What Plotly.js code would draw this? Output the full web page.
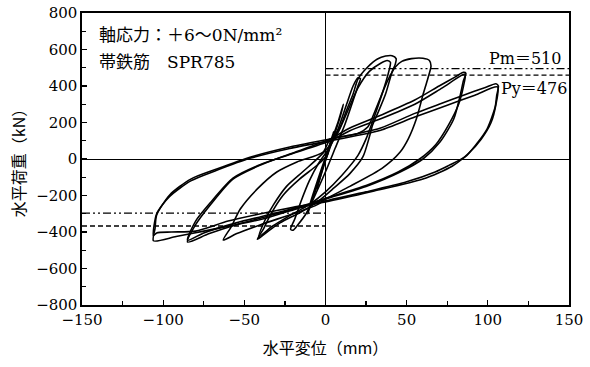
<!DOCTYPE html>
<html>
<head>
<meta charset="utf-8">
<script src="https://cdn.plot.ly/plotly-3.0.1.min.js"></script>
<style>html,body{margin:0;padding:0;background:#fff;}#chart{width:590px;height:367px;}</style>
</head>
<body>
<div id="chart"></div>
<script>
// ---- data (horizontal displacement mm, horizontal load kN) ----
const cycA_x = [0, 2, 5, 4, 1, -2, -5, -4, -1, 0];
const cycA_y = [0, 60, 150, 110, 20, -60, -160, -120, -30, 0];

const cycB_x = [0, 4, 8, 11, 9, 5, 0, -4, -8, -11, -9, -5, 0];
const cycB_y = [10, 110, 210, 300, 230, 120, -10, -120, -220, -300, -230, -120, 10];

const cycC_x = [3, 8, 13, 17, 20, 21.5, 20, 17, 12, 6, 0, -6, -12, -17, -20, -21.5, -19, -15, -10, -4, 3];
const cycC_y = [70, 170, 300, 400, 445, 440, 400, 320, 190, 60, -70, -190, -300, -360, -390, -385, -330, -230, -120, -20, 70];

const cycD_x = [3, 5, 9, 13, 17, 20, 26, 32, 37, 41, 43.5, 43, 41, 37, 32, 29, 27, 23, 15, 5, -5, -15, -28, -36, -42, -38, -34, -26, -16, -5, 1, 3];
const cycD_y = [90, 120, 175, 268, 356, 438, 504, 548, 564, 566, 550, 520, 477, 356, 247, 186, 120, 11, -80, -160, -235, -290, -350, -400, -440, -380, -307, -197, -110, -33, 22, 90];

const cycD2_x = [3, 8, 14, 20, 27, 34, 38, 40, 39, 35, 30, 25, 20, 10, 0, -10, -22, -33, -41, -37, -32, -24, -14, -4, 3];
const cycD2_y = [80, 150, 270, 390, 480, 525, 540, 530, 480, 360, 230, 110, 20, -90, -180, -250, -310, -370, -425, -330, -250, -150, -70, 10, 80];

const cycE_x = [3, 12, 20, 26, 29, 34, 38.5, 43, 47, 53, 60, 64, 65, 63, 60, 56, 51, 46, 35, 15, 0, -5, -20, -40, -55, -63, -58, -52.5, -42, -30, -17.6, -1.5, 3];
const cycE_y = [110, 125, 140, 175, 230, 340, 433, 504, 535, 550, 552, 540, 510, 440, 350, 220, 110, 38, -50, -150, -220, -250, -300, -360, -410, -444, -370, -274, -164, -71, -16, 38, 110];

const cycF_x = [3, 15, 34, 55, 70, 80, 85, 86.5, 85, 83, 79, 70.5, 60, 46, 25, 0, -10, -30, -55, -72, -85, -80, -71, -57, -40, -22, 3];
const cycF_y = [110, 170, 240, 323, 400, 450, 475, 470, 430, 350, 219, 93, 0, -71, -150, -220, -250, -300, -360, -410, -455, -360, -252, -110, -33, 27, 110];

const cycF2_x = [3, 15, 34, 55, 72, 86, 85, 82, 76, 68, 58, 45, 25, 0, -10, -30, -55, -75, -85, -80, -71, -57, -40, -22, 3];
const cycF2_y = [100, 155, 220, 300, 390, 465, 400, 300, 190, 80, 0, -70, -145, -215, -245, -295, -350, -405, -445, -340, -240, -105, -30, 25, 100];

const cycG_x = [3, 20, 34, 55, 70, 85, 98, 105, 106.5, 105.5, 104.5, 99.5, 93, 86, 76, 67.5, 50, 25, 0, -15, -35, -55, -75, -92, -106, -105, -104, -96, -83, -67, -46, -22, 3];
const cycG_y = [110, 140, 170, 250, 300, 350, 390, 412, 400, 350, 285, 164, 82, 11, -35, -71, -125, -180, -230, -265, -320, -360, -395, -425, -448, -380, -307, -197, -110, -55, 11, 66, 110];

const cycG2_x = [3, 20, 34, 55, 75, 92, 106, 105, 102, 96, 88, 78, 60, 30, 0, -20, -40, -60, -80, -95, -104, -106, -104, -96, -83, -67, -46, -22, 3];
const cycG2_y = [100, 130, 158, 230, 295, 350, 395, 300, 200, 110, 30, -40, -110, -175, -235, -265, -300, -340, -395, -400, -405, -420, -300, -205, -120, -62, 5, 58, 100];

const cycles = [
  [cycA_x, cycA_y], [cycB_x, cycB_y], [cycC_x, cycC_y], [cycD_x, cycD_y], [cycD2_x, cycD2_y],
  [cycE_x, cycE_y], [cycF_x, cycF_y], [cycF2_x, cycF2_y], [cycG_x, cycG_y], [cycG2_x, cycG2_y]
];

// reference levels
const pmPosX = [0, 150],   pmPosY = [495, 495];
const pyPosX = [0, 150],   pyPosY = [460, 460];
const pmNegX = [-150, 0],  pmNegY = [-297, -297];
const pyNegX = [-150, 0],  pyNegY = [-367, -367];

const xTicks = [-150, -100, -50, 0, 50, 100, 150];
const yTicks = [-800, -600, -400, -200, 0, 200, 400, 600, 800];

const traces = cycles.map(c => ({
  x: c[0], y: c[1], type: 'scatter', mode: 'lines',
  line: {color: '#000', width: 1.6, shape: 'spline', smoothing: 0.7},
  hoverinfo: 'skip', showlegend: false
}));
traces.push({x: pmPosX, y: pmPosY, mode: 'lines', line: {color: '#000', width: 1.3, dash: '8px,3px,2px,3px,2px,3px'}, showlegend: false});
traces.push({x: pyPosX, y: pyPosY, mode: 'lines', line: {color: '#000', width: 1.3, dash: '5px,3px'}, showlegend: false});
traces.push({x: pmNegX, y: pmNegY, mode: 'lines', line: {color: '#000', width: 1.3, dash: '8px,3px,2px,3px,2px,3px'}, showlegend: false});
traces.push({x: pyNegX, y: pyNegY, mode: 'lines', line: {color: '#000', width: 1.3, dash: '5px,3px'}, showlegend: false});

const serif = 'DejaVu Serif, Noto Sans CJK JP, serif';
const cjk = 'Noto Sans CJK JP, sans-serif';

const layout = {
  width: 590, height: 367,
  margin: {l: 82, r: 21, t: 13, b: 62},
  paper_bgcolor: '#fff', plot_bgcolor: '#fff',
  showlegend: false,
  xaxis: {
    range: [-150, 150], tickvals: xTicks, ticktext: xTicks.map(v => v < 0 ? '\u2212' + Math.abs(v) : String(v)),
    ticks: 'inside', ticklen: 5, tickwidth: 1.3, tickcolor: '#000',
    minor: {dtick: 25, ticks: 'inside', ticklen: 4, tickwidth: 1.2, tickcolor: '#000', showgrid: false},
    showgrid: false, zeroline: true, zerolinecolor: '#000', zerolinewidth: 1,
    showline: true, linecolor: '#000', linewidth: 1.6, mirror: true,
    tickfont: {family: serif, size: 15, color: '#000'},
    title: {text: '水平変位（mm）', font: {family: cjk, size: 16, color: '#000'}, standoff: 15},
    automargin: false
  },
  yaxis: {
    range: [-800, 800], tickvals: yTicks, ticktext: yTicks.map(v => v < 0 ? '\u2212' + Math.abs(v) : String(v)),
    ticks: 'inside', ticklen: 5, tickwidth: 1.3, tickcolor: '#000',
    minor: {dtick: 100, ticks: 'inside', ticklen: 4, tickwidth: 1.2, tickcolor: '#000', showgrid: false},
    showgrid: false, zeroline: true, zerolinecolor: '#000', zerolinewidth: 1,
    showline: true, linecolor: '#000', linewidth: 1.6, mirror: true,
    tickfont: {family: serif, size: 15, color: '#000'},
    title: {text: '水平荷重（kN）', font: {family: cjk, size: 16, color: '#000'}, standoff: 6},
    automargin: false
  },
  annotations: [
    {x: -141, y: 680, xref: 'x', yref: 'y', xanchor: 'left', yanchor: 'middle', showarrow: false,
     text: '軸応力：＋6～0N/mm²', font: {family: serif, size: 17, color: '#000'}},
    {x: -141, y: 532, xref: 'x', yref: 'y', xanchor: 'left', yanchor: 'middle', showarrow: false,
     text: '帯鉄筋　SPR785', font: {family: serif, size: 17, color: '#000'}},
    {x: 146, y: 548, xref: 'x', yref: 'y', xanchor: 'right', yanchor: 'middle', showarrow: false,
     text: 'Pm＝510', font: {family: serif, size: 16, color: '#000'}},
    {x: 150, y: 384, xref: 'x', yref: 'y', xanchor: 'right', yanchor: 'middle', showarrow: false,
     text: 'Py＝476', font: {family: serif, size: 16, color: '#000'}}
  ]
};

Plotly.newPlot('chart', traces, layout, {displayModeBar: false, staticPlot: true});
</script>
</body>
</html>
